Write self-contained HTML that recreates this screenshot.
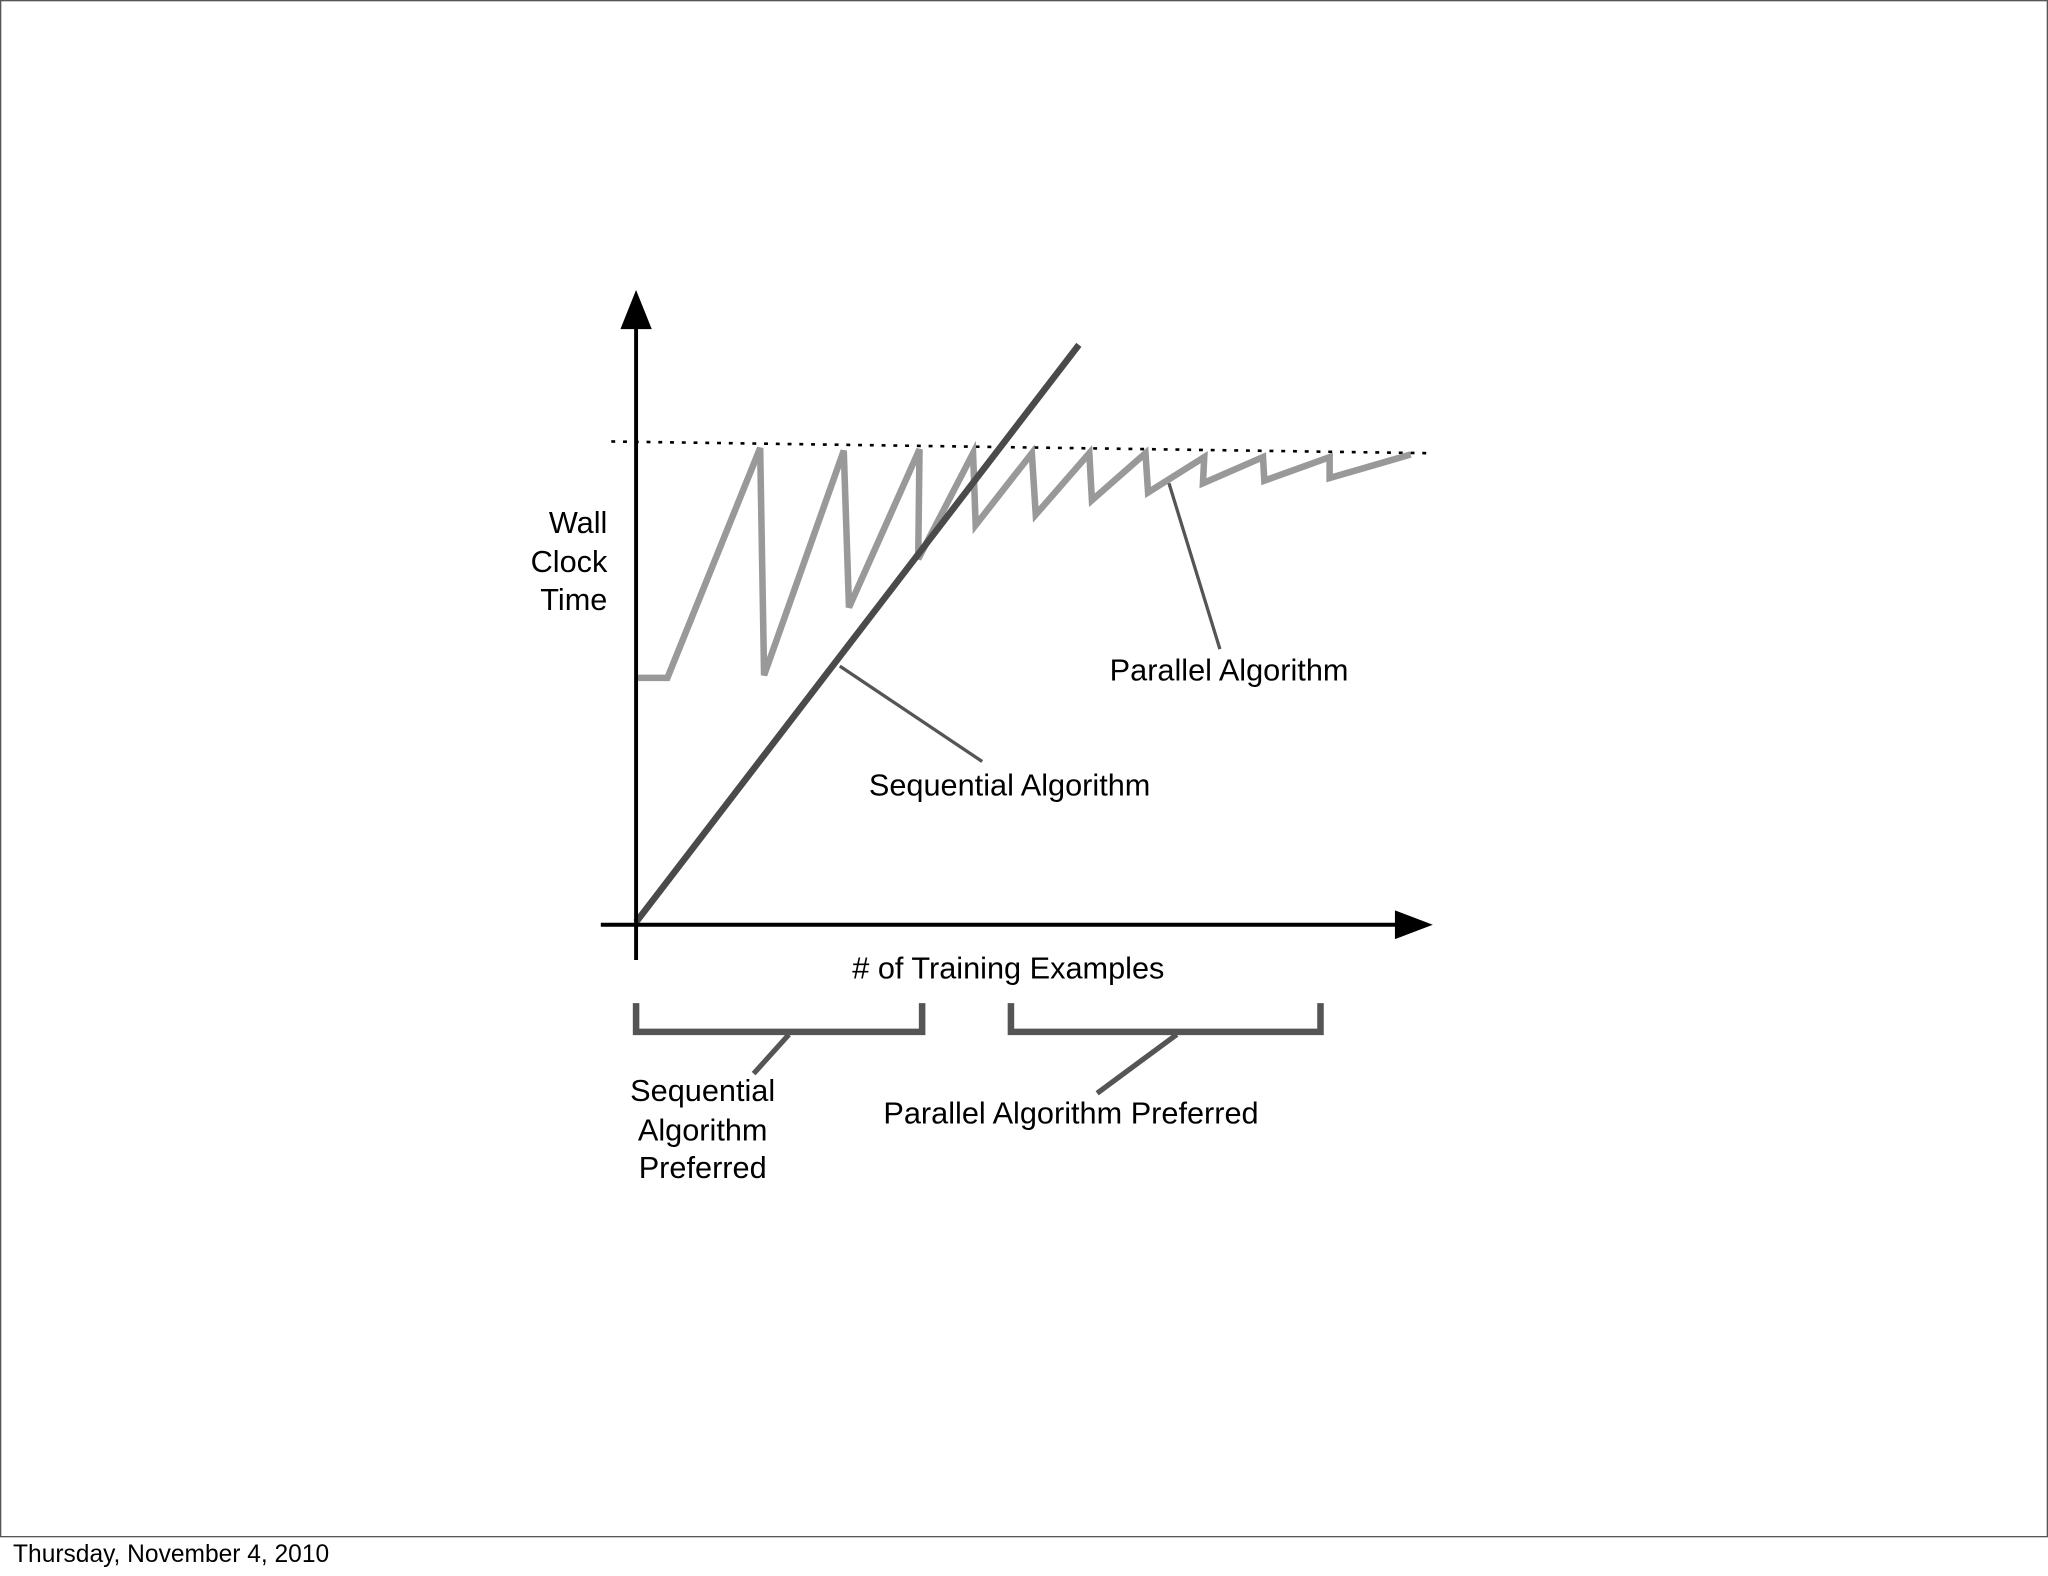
<!DOCTYPE html>
<html><head><meta charset="utf-8"><style>
html,body{margin:0;padding:0;background:#fff;width:2048px;height:1576px;overflow:hidden}
svg{display:block}
text{font-family:"Liberation Sans",Helvetica,Arial,sans-serif;fill:#000}
</style></head><body>
<svg width="2048" height="1576" viewBox="0 0 1568 1206.6" xmlns="http://www.w3.org/2000/svg">
<rect x="0.5" y="0.5" width="1567" height="1176" fill="#fff" stroke="#555" stroke-width="1"/>
<text x="10" y="1196" font-size="18.8">Thursday, November 4, 2010</text>
<line x1="468" y1="338" x2="1097" y2="347" stroke="#000" stroke-width="2" stroke-dasharray="3,6"/>
<polyline fill="none" stroke="#999" stroke-width="5" stroke-linejoin="miter" points="487,519 511,519 582,343 585,517 646,345 650,465 704,344 703,428 745,347 747,402 790,347 793,394 834,347 836,383 877,347 879,377 922,350 921,370 967,350 968,368 1018,350 1018,366 1080,348"/>
<line x1="487" y1="706" x2="826" y2="264" stroke="#4a4a4a" stroke-width="5"/>
<line x1="487" y1="735" x2="487" y2="245" stroke="#000" stroke-width="3"/>
<polygon points="487,222 475,252 499,252" fill="#000"/>
<line x1="460" y1="708" x2="1075" y2="708" stroke="#000" stroke-width="3"/>
<polygon points="1097,708 1068,697 1068,719" fill="#000"/>
<line x1="895" y1="370" x2="934" y2="497" stroke="#555" stroke-width="2.5"/>
<line x1="643" y1="510" x2="752" y2="583" stroke="#555" stroke-width="2.5"/>
<g font-size="23.5">
<text x="941" y="521" text-anchor="middle">Parallel Algorithm</text>
<text x="773" y="609" text-anchor="middle">Sequential Algorithm</text>
<text x="465" y="408" text-anchor="end">Wall</text>
<text x="465" y="438" text-anchor="end">Clock</text>
<text x="465" y="467" text-anchor="end">Time</text>
<text x="772" y="749" text-anchor="middle"># of Training Examples</text>
<text x="538" y="843" text-anchor="middle">Sequential</text>
<text x="538" y="873" text-anchor="middle">Algorithm</text>
<text x="538" y="902" text-anchor="middle">Preferred</text>
<text x="820" y="860" text-anchor="middle">Parallel Algorithm Preferred</text>
</g>
<polyline fill="none" stroke="#555" stroke-width="5" points="487,768 487,790 706,790 706,768"/>
<line x1="604" y1="792" x2="577" y2="822" stroke="#555" stroke-width="4"/>
<polyline fill="none" stroke="#555" stroke-width="5" points="774,768 774,790 1011,790 1011,768"/>
<line x1="901" y1="792" x2="840" y2="837" stroke="#555" stroke-width="4"/>
</svg>
</body></html>
